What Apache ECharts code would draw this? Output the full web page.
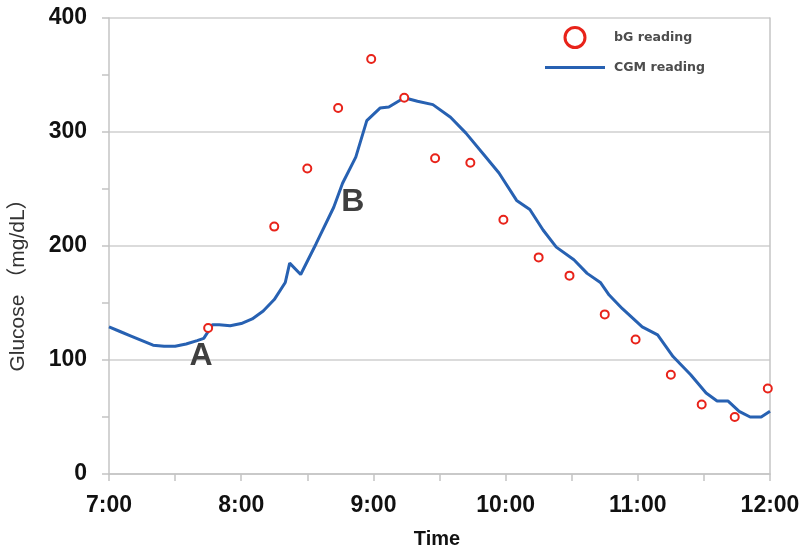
<!DOCTYPE html>
<html>
<head>
<meta charset="utf-8">
<script src="https://cdn.jsdelivr.net/npm/echarts@6/dist/echarts.min.js"></script>
<style>html,body{margin:0;padding:0;background:#fff}#c{width:803px;height:554px}</style>
</head>
<body>
<div id="c"></div>
<script>
// Time in minutes after 7:00
const xTickLabels = ['7:00','8:00','9:00','10:00','11:00','12:00'];
const bgTimes  = [45, 75, 90, 104, 119, 134, 148, 164, 179, 195, 209, 225, 239, 255, 269, 284, 299];
const bgValues = [128, 217, 268, 321, 364, 330, 277, 273, 223, 190, 174, 140, 118, 87, 61, 50, 75];
const cgmTimes  = [0,5,10,15,20,25,30,35,40,43,47,50,55,60,65,70,75,80,82,87,94,102,106,112,117,123,127,134,140,147,155,162,171,177,185,191,197,203,211,217,223,227,233,242,249,256,264,271,276,281,286,291,296,300];
const cgmValues = [129,125,121,117,113,112,112,114,117,119,131,131,130,132,136,143,153,168,185,175,202,234,255,278,310,321,322,330,327,324,313,299,278,264,240,232,214,199,188,176,168,157,145,129,122,103,87,71,64,64,55,50,50,55];
const annotations = [{text:'A', t:41.8, v:103}, {text:'B', t:110.7, v:238.6}];

const chart = echarts.init(document.getElementById('c'), null, {renderer:'canvas'});
const FONT = "'Liberation Sans', Arial, 'Noto Sans CJK SC', sans-serif";
const gray = '#c4c4c4';
chart.setOption({
  animation:false,
  backgroundColor:'#fff',
  grid:{left:109, right:33, top:18, bottom:80},
  legend:{
    orient:'vertical', left:540, top:21, itemWidth:60, itemHeight:20, itemGap:12,
    textStyle:{fontFamily:"'DejaVu Sans', sans-serif", fontSize:12.6, fontWeight:'bold', color:'#4d4d4d', padding:[0,0,0,4]},
    data:[
      {name:'bG reading', icon:'circle', itemStyle:{color:'rgba(0,0,0,0)', borderColor:'#e8231a', borderWidth:3}},
      {name:'CGM reading', icon:'path://M0,0L60,0L60,3L0,3Z', itemStyle:{color:'#2761b2', borderWidth:0}}
    ]
  },
  xAxis:{
    type:'value', min:0, max:300, interval:60,
    name:'Time', nameLocation:'middle', nameGap:55,
    nameTextStyle:{fontFamily:FONT, fontSize:20, fontWeight:'bold', color:'#111', padding:[0,5,0,0]},
    axisLine:{show:true, lineStyle:{color:gray, width:1.5}},
    axisTick:{show:true, length:7, lineStyle:{color:gray, width:1.5}},
    minorTick:{show:true, splitNumber:2, length:7, lineStyle:{color:gray, width:1.5}},
    splitLine:{show:false},
    axisLabel:{fontFamily:FONT, fontSize:23, fontWeight:'bold', color:'#111', margin:20,
      formatter:(v)=>xTickLabels[Math.round(v/60)]}
  },
  yAxis:[{
    type:'value', min:0, max:400, interval:100,
    name:'Glucose （mg/dL）', nameLocation:'middle', nameGap:80,
    nameTextStyle:{fontFamily:FONT, fontSize:21, color:'#333', padding:[0,68,0,0]},
    axisLine:{show:true, lineStyle:{color:gray, width:1.5}},
    axisTick:{show:true, length:7, lineStyle:{color:gray, width:1.5}},
    minorTick:{show:true, splitNumber:2, length:7, lineStyle:{color:gray, width:1.5}},
    splitLine:{show:true, lineStyle:{color:'#cfcfcf', width:1.5}},
    axisLabel:{fontFamily:FONT, fontSize:23, fontWeight:'bold', color:'#111', margin:22}
  },{
    type:'value', min:0, max:400, position:'right',
    axisLine:{show:true, lineStyle:{color:gray, width:1.5}},
    axisTick:{show:false}, axisLabel:{show:false}, splitLine:{show:false}
  }],
  series:[
    {
      name:'CGM reading', type:'line', showSymbol:false, symbol:'none',
      data:cgmTimes.map((t,i)=>[t,cgmValues[i]]),
      lineStyle:{color:'#2761b2', width:3}, itemStyle:{color:'#2761b2'},
      markPoint:{
        symbol:'circle', symbolSize:0,
        label:{show:true, position:'inside', fontFamily:FONT, fontSize:32, fontWeight:'bold', color:'#3f3f3f',
          formatter:(p)=>p.name},
        data:annotations.map(a=>({name:a.text, coord:[a.t,a.v]}))
      },
      z:2
    },
    {
      name:'bG reading', type:'scatter', symbol:'circle', symbolSize:8,
      data:bgTimes.map((t,i)=>[t,bgValues[i]]),
      itemStyle:{color:'#fff', borderColor:'#e8231a', borderWidth:2, opacity:1},
      z:3
    }
  ]
});
</script>
</body>
</html>
